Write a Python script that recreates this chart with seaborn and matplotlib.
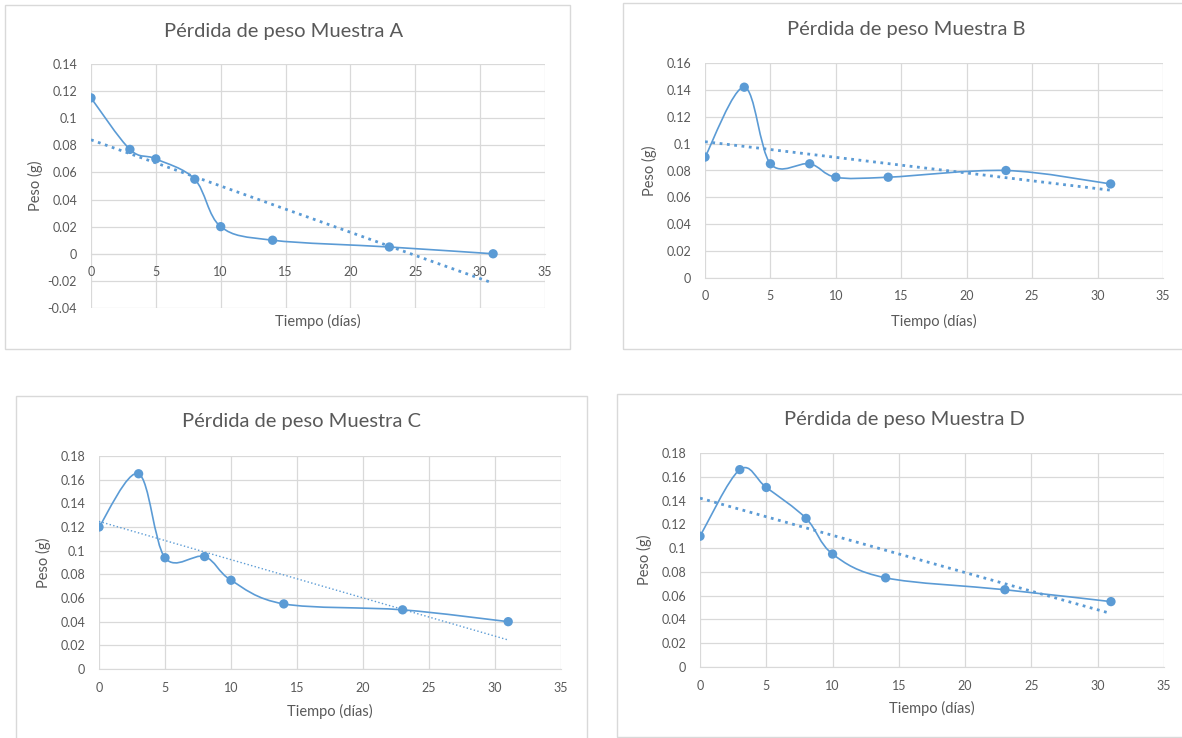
import numpy as np
import seaborn as sns
import matplotlib.pyplot as plt
from matplotlib.path import Path
from matplotlib.patches import PathPatch, Rectangle
from matplotlib.ticker import MultipleLocator, FuncFormatter

# Datos
dias = [0, 3, 5, 8, 10, 14, 23, 31]
peso_a = [0.115, 0.077, 0.070, 0.055, 0.020, 0.010, 0.005, 0.000]
peso_b = [0.090, 0.142, 0.085, 0.085, 0.075, 0.075, 0.080, 0.070]
peso_c = [0.120, 0.165, 0.094, 0.095, 0.075, 0.055, 0.050, 0.040]
peso_d = [0.110, 0.166, 0.151, 0.125, 0.095, 0.075, 0.065, 0.055]
muestras = ["A", "B", "C", "D"]

sns.set_style("white")
plt.rcParams['font.family'] = ['Lato', 'DejaVu Sans']

AZUL = '#5B9BD5'
GRIS_TXT = '#595959'
GRIS_LIN = '#D9D9D9'

W, H = 1182, 738
fig = plt.figure(figsize=(W / 100, H / 100), dpi=100)


def caja(l, t, r, b):
    fig.add_artist(Rectangle((l / W, 1 - b / H), (r - l) / W, (b - t) / H,
                             transform=fig.transFigure, fill=False,
                             ec=GRIS_LIN, lw=1))


def curva_suave(x, y):
    # línea suavizada tipo Excel (Bezier por tramos)
    pts = np.column_stack([x, y]).astype(float)
    n = len(pts)
    verts = [pts[0]]
    codes = [Path.MOVETO]
    for i in range(n - 1):
        p0 = pts[max(i - 1, 0)]
        p1 = pts[i]
        p2 = pts[i + 1]
        p3 = pts[min(i + 2, n - 1)]
        verts += [p1 + (p2 - p0) / 6, p2 - (p3 - p1) / 6, p2]
        codes += [Path.CURVE4] * 3
    return Path(verts, codes)


# (caja, area de trazado, ylim, grosor tendencia, titulo x/y, y etiqueta x)
paneles = [
    (peso_a, (5, 5, 570, 349), (91, 64, 545, 308), (-0.04, 0.14), 2.0, (284, 32), 321),
    (peso_b, (623, 3, 1190, 349), (705, 63, 1163, 278), (0, 0.16), 2.0, (906, 30), 321),
    (peso_c, (16, 396, 587, 745), (99, 456, 561, 669), (0, 0.18), 1.0, (301, 422), 711),
    (peso_d, (617, 394, 1190, 737), (700, 453, 1164, 667), (0, 0.18), 2.0, (904, 420), 708),
]

for letra, (peso, bx, pa, ylim, lw_t, pt, yx) in zip(muestras, paneles):
    caja(*bx)
    l, t, r, b = pa
    ax = fig.add_axes([l / W, 1 - b / H, (r - l) / W, (b - t) / H])

    # línea de tendencia lineal
    sns.regplot(x=dias, y=peso, ax=ax, scatter=False, ci=None, truncate=True,
                line_kws=dict(color=AZUL, ls=':', lw=lw_t, zorder=3))
    ax.add_patch(PathPatch(curva_suave(dias, peso), fill=False, ec=AZUL,
                           lw=1.2, zorder=4))
    sns.scatterplot(x=dias, y=peso, ax=ax, color=AZUL, s=45,
                    edgecolor='none', zorder=5)

    ax.set_xlim(0, 35)
    ax.set_ylim(*ylim)
    ax.xaxis.set_major_locator(MultipleLocator(5))
    ax.yaxis.set_major_locator(MultipleLocator(0.02))
    ax.yaxis.set_major_formatter(FuncFormatter(lambda v, p: f"{round(v, 2):g}"))
    ax.grid(True, color=GRIS_LIN, lw=0.9)
    ax.set_axisbelow(True)
    for s in ax.spines.values():
        s.set_visible(False)
    ax.spines['bottom'].set_visible(True)
    ax.spines['bottom'].set_color(GRIS_LIN)
    ax.spines['bottom'].set_position(('data', 0))
    ax.tick_params(length=0, labelsize=9, labelcolor=GRIS_TXT)
    ax.tick_params(axis='y', pad=10)
    ax.tick_params(axis='x', pad=9)
    ax.set_xlabel("")
    ax.set_ylabel("")

    fig.text(pt[0] / W, 1 - pt[1] / H,
             f"Pérdida de peso Muestra {letra}", ha='center', va='center',
             fontsize=14.5, color=GRIS_TXT)
    fig.text(((l + r) / 2) / W, 1 - yx / H, "Tiempo (días)", ha='center',
             va='center', fontsize=10.5, color=GRIS_TXT)
    fig.text((l - 56) / W, 1 - ((t + b) / 2) / H, "Peso (g)", ha='center',
             va='center', rotation=90, fontsize=10.5, color=GRIS_TXT)

fig.savefig("out.png", dpi=100, facecolor='white')
